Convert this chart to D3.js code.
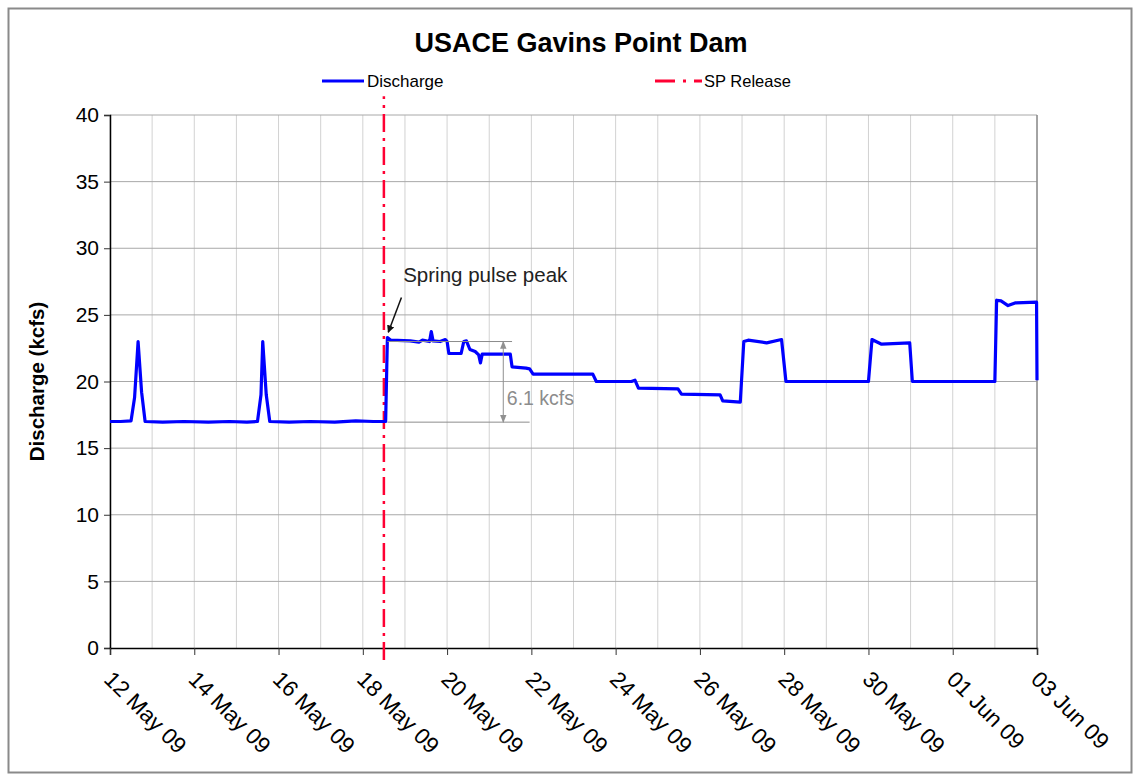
<!DOCTYPE html>
<html>
<head>
<meta charset="utf-8">
<script src="https://cdn.jsdelivr.net/npm/d3@7"></script>
<style>
	body { margin: 0; background: #fff; }
	svg { display: block; font-family: Arial, "Liberation Sans", sans-serif; }
</style>
</head>
<body>
<div id="chart"></div>
<script>
// discharge readings, [time, kcfs]
var dischargeTimes = ["2009-05-12 00:00", "2009-05-12 06:00", "2009-05-12 12:00", "2009-05-12 14:00", "2009-05-12 16:00", "2009-05-12 18:00", "2009-05-12 20:00",
	"2009-05-13 06:00", "2009-05-13 18:00", "2009-05-14 08:00", "2009-05-14 20:00", "2009-05-15 06:00", "2009-05-15 12:00", "2009-05-15 14:00",
	"2009-05-15 15:00", "2009-05-15 17:00", "2009-05-15 19:00", "2009-05-16 06:00", "2009-05-16 18:00", "2009-05-17 08:00", "2009-05-17 20:00",
	"2009-05-18 06:00", "2009-05-18 13:00", "2009-05-18 14:00", "2009-05-18 16:00", "2009-05-19 03:00", "2009-05-19 08:00", "2009-05-19 10:00",
	"2009-05-19 14:00", "2009-05-19 15:00", "2009-05-19 16:00", "2009-05-19 20:00", "2009-05-19 23:00", "2009-05-20 00:00", "2009-05-20 01:00",
	"2009-05-20 08:00", "2009-05-20 09:30", "2009-05-20 11:00", "2009-05-20 13:00", "2009-05-20 16:00", "2009-05-20 18:00", "2009-05-20 19:00",
	"2009-05-20 20:00", "2009-05-21 12:00", "2009-05-21 13:00", "2009-05-21 21:00", "2009-05-21 23:00", "2009-05-22 01:00", "2009-05-23 11:00",
	"2009-05-23 13:00", "2009-05-24 09:00", "2009-05-24 11:00", "2009-05-24 13:00", "2009-05-25 11:30", "2009-05-25 13:30", "2009-05-26 11:30",
	"2009-05-26 13:00", "2009-05-26 23:00", "2009-05-27 01:00", "2009-05-27 03:30", "2009-05-27 14:00", "2009-05-27 22:30", "2009-05-28 01:00",
	"2009-05-30 00:00", "2009-05-30 02:00", "2009-05-30 07:30", "2009-05-30 23:30", "2009-05-31 01:00", "2009-06-02 00:00", "2009-06-02 01:00",
	"2009-06-02 03:30", "2009-06-02 07:30", "2009-06-02 11:30", "2009-06-02 23:45", "2009-06-03 00:00"];
var dischargeValues = [17.0, 17.0, 17.05, 18.8, 23.0, 19.2, 17.0,
	16.95, 17.0, 16.95, 17.0, 16.95, 17.0, 19.0,
	23.0, 19.0, 17.0, 16.95, 17.0, 16.95, 17.05,
	17.0, 17.0, 23.3, 23.1, 23.05, 22.95, 23.1,
	23.0, 23.75, 23.05, 23.0, 23.15, 23.0, 22.1,
	22.1, 23.0, 23.05, 22.4, 22.25, 22.0, 21.4,
	22.05, 22.05, 21.1, 21.0, 20.95, 20.55, 20.55,
	20.0, 20.0, 20.1, 19.5, 19.45, 19.05, 19.0,
	18.55, 18.45, 23.0, 23.1, 22.9, 23.15, 20.0,
	20.0, 23.15, 22.8, 22.9, 20.0, 20.0, 26.1,
	26.05, 25.7, 25.9, 25.95, 20.1];

// spring pulse release marker
var spTimes = ["2009-05-18 12:00", "2009-05-18 12:00"];
var spValues = [-0.9, 41.4];

var xTickLabels = ["2009-05-12", "2009-05-14", "2009-05-16", "2009-05-18", "2009-05-20", "2009-05-22",
	"2009-05-24", "2009-05-26", "2009-05-28", "2009-05-30", "2009-06-01", "2009-06-03"];
var yTicks = [0, 5, 10, 15, 20, 25, 30, 35, 40];

var W = 1135, H = 779;
var margin = { top: 115, right: 98, bottom: 131, left: 110 };
var width = W - margin.left - margin.right,
	height = H - margin.top - margin.bottom;

var parseTime = d3.timeParse("%Y-%m-%d %H:%M"),
	parseDay = d3.timeParse("%Y-%m-%d");

var discharge = dischargeTimes.map(function(t, i) {
	return { date: parseTime(t), value: dischargeValues[i] };
});
var sp = spTimes.map(function(t, i) {
	return { date: parseTime(t), value: spValues[i] };
});
var tickDates = xTickLabels.map(parseDay);

var x = d3.scaleTime()
	.domain([tickDates[0], tickDates[tickDates.length - 1]])
	.range([0, width]);

var y = d3.scaleLinear()
	.domain([0, 40])
	.range([height, 0]);

var svg = d3.select("#chart").append("svg")
	.attr("width", W)
	.attr("height", H);

// outer frame
svg.append("rect")
	.attr("x", 8.5)
	.attr("y", 8.5)
	.attr("width", W - 12)
	.attr("height", H - 15)
	.attr("fill", "#fff")
	.attr("stroke", "#8a8a8a")
	.attr("stroke-width", 2);

svg.append("text")
	.attr("x", 581)
	.attr("y", 52)
	.attr("text-anchor", "middle")
	.style("font-size", "27px")
	.style("font-weight", "bold")
	.text("USACE Gavins Point Dam");

// legend
var legend = svg.append("g").attr("transform", "translate(0,81)");
legend.append("line")
	.attr("x1", 322).attr("x2", 364)
	.attr("stroke", "#0000ff")
	.attr("stroke-width", 3);
legend.append("text")
	.attr("x", 367).attr("y", 6)
	.style("font-size", "17px")
	.text("Discharge");
legend.append("line")
	.attr("x1", 655).attr("x2", 702)
	.attr("stroke", "#ff0033")
	.attr("stroke-width", 3)
	.attr("stroke-dasharray", "20,8,3,8");
legend.append("text")
	.attr("x", 704).attr("y", 6)
	.style("font-size", "16.5px")
	.text("SP Release");

var g = svg.append("g")
	.attr("transform", "translate(" + margin.left + "," + margin.top + ")");

// grid
g.append("g")
	.selectAll("line")
	.data(d3.timeDay.range(tickDates[0], d3.timeHour.offset(tickDates[tickDates.length - 1], 1)))
	.join("line")
	.attr("x1", function(d) { return x(d); })
	.attr("x2", function(d) { return x(d); })
	.attr("y1", 0)
	.attr("y2", height)
	.attr("stroke", "#d2d2d2")
	.attr("stroke-width", 1);

g.append("g")
	.selectAll("line")
	.data(yTicks.slice(1))
	.join("line")
	.attr("x1", 0)
	.attr("x2", width)
	.attr("y1", function(d) { return y(d); })
	.attr("y2", function(d) { return y(d); })
	.attr("stroke", "#a8a8a8")
	.attr("stroke-width", 1);

g.append("line")
	.attr("x1", width).attr("x2", width)
	.attr("y1", 0).attr("y2", height)
	.attr("stroke", "#8c8c8c")
	.attr("stroke-width", 1.5);

// axes
var yAxis = d3.axisLeft(y)
	.tickValues(yTicks)
	.tickSize(6)
	.tickPadding(5);

var yG = g.append("g").call(yAxis);
yG.select(".domain").attr("stroke", "#000").attr("stroke-width", 1.5);
yG.selectAll(".tick line").attr("stroke", "#333");
yG.selectAll(".tick text")
	.style("font-size", "21px")
	.style("font-family", "Arial, 'Liberation Sans', sans-serif")
	.attr("fill", "#000");

var xAxis = d3.axisBottom(x)
	.tickValues(tickDates)
	.tickFormat(d3.timeFormat("%d %b %y"))
	.tickSize(7);

var xG = g.append("g")
	.attr("transform", "translate(0," + height + ")")
	.call(xAxis);
xG.select(".domain").attr("stroke", "#000").attr("stroke-width", 1.5);
xG.selectAll(".tick line").attr("stroke", "#333");
xG.selectAll(".tick text")
	.attr("text-anchor", "start")
	.attr("dy", "0.35em")
	.attr("transform", "translate(5,20) rotate(45)")
	.style("font-size", "22.5px")
	.style("font-family", "Arial, 'Liberation Sans', sans-serif")
	.attr("fill", "#000");

svg.append("text")
	.attr("transform", "translate(44," + (margin.top + y(20)) + ") rotate(-90)")
	.attr("text-anchor", "middle")
	.style("font-size", "20.5px")
	.style("font-weight", "bold")
	.text("Discharge (kcfs)");

// series
var line = d3.line()
	.x(function(d) { return x(d.date); })
	.y(function(d) { return y(d.value); });

g.append("path")
	.datum(sp)
	.attr("d", line)
	.attr("fill", "none")
	.attr("stroke", "#ff0033")
	.attr("stroke-width", 2.5)
	.attr("stroke-dasharray", "18,6,3,6");

g.append("path")
	.datum(discharge)
	.attr("d", line)
	.attr("fill", "none")
	.attr("stroke", "#0000ff")
	.attr("stroke-width", 3.2)
	.attr("stroke-linejoin", "round");

// annotations
var defs = svg.append("defs");
defs.append("marker")
	.attr("id", "arrowBlack")
	.attr("viewBox", "0 0 10 10")
	.attr("refX", 9).attr("refY", 5)
	.attr("markerWidth", 5).attr("markerHeight", 5)
	.attr("orient", "auto")
	.append("path")
	.attr("d", "M0,0L10,5L0,10Z")
	.attr("fill", "#111");
defs.append("marker")
	.attr("id", "arrowGray")
	.attr("viewBox", "0 0 10 10")
	.attr("refX", 9).attr("refY", 5)
	.attr("markerWidth", 8).attr("markerHeight", 8)
	.attr("orient", "auto-start-reverse")
	.append("path")
	.attr("d", "M0,1L10,5L0,9Z")
	.attr("fill", "#909090");

var pt = function(t, v) { return [x(parseTime(t)), y(v)]; };

var a0 = pt("2009-05-18 22:00", 26.3), a1 = pt("2009-05-18 14:30", 23.7);
g.append("line")
	.attr("x1", a0[0]).attr("y1", a0[1])
	.attr("x2", a1[0]).attr("y2", a1[1])
	.attr("stroke", "#111")
	.attr("stroke-width", 1.5)
	.attr("marker-end", "url(#arrowBlack)");

var t0 = pt("2009-05-18 23:00", 27.45);
g.append("text")
	.attr("x", t0[0]).attr("y", t0[1])
	.style("font-size", "20.5px")
	.attr("fill", "#222")
	.text("Spring pulse peak");

var h1 = pt("2009-05-18 14:00", 23.0), h1e = pt("2009-05-21 13:00", 23.0);
var h2 = pt("2009-05-18 14:00", 16.95), h2e = pt("2009-05-21 23:00", 16.95);
g.append("line")
	.attr("x1", h1[0]).attr("y1", h1[1]).attr("x2", h1e[0]).attr("y2", h1e[1])
	.attr("stroke", "#8c8c8c").attr("stroke-width", 1);
g.append("line")
	.attr("x1", h2[0]).attr("y1", h2[1]).attr("x2", h2e[0]).attr("y2", h2e[1])
	.attr("stroke", "#8c8c8c").attr("stroke-width", 1);
var v1 = pt("2009-05-21 08:00", 23.0), v2 = pt("2009-05-21 08:00", 16.95);
g.append("line")
	.attr("x1", v1[0]).attr("y1", v1[1]).attr("x2", v2[0]).attr("y2", v2[1])
	.attr("stroke", "#909090").attr("stroke-width", 1)
	.attr("marker-start", "url(#arrowGray)")
	.attr("marker-end", "url(#arrowGray)");

var t1 = pt("2009-05-21 10:00", 18.2);
g.append("text")
	.attr("x", t1[0]).attr("y", t1[1])
	.style("font-size", "19.5px")
	.attr("fill", "#8c8c8c")
	.text("6.1 kcfs");
</script>
</body>
</html>
